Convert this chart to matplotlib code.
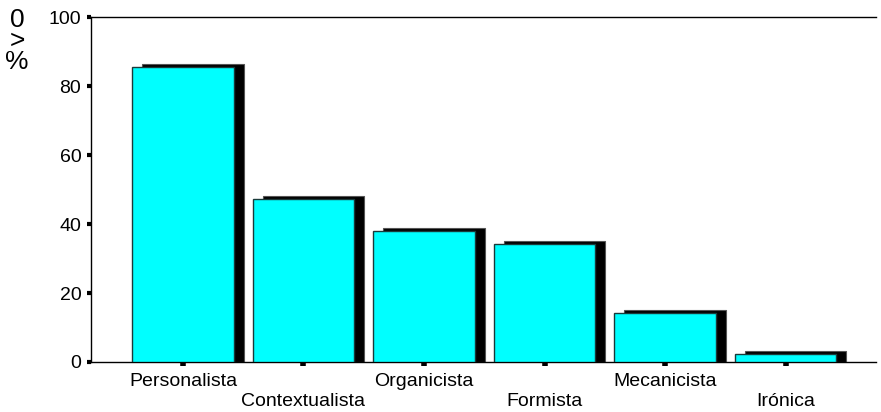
import matplotlib.pyplot as plt

plt.rcParams['font.family'] = ['Liberation Sans', 'DejaVu Sans']

# Daten
categories = ["Personalista", "Contextualista", "Organicista", "Formista", "Mecanicista", "Irónica"]
values = [85.5, 47.2, 38.0, 34.2, 14.2, 2.3]

fig = plt.figure(figsize=(8.81, 4.12), dpi=100)
ax = fig.add_axes([91 / 881, 50 / 412, 785 / 881, 345 / 412])

x = list(range(len(categories)))
bw = 0.84
dx = 0.083
dy = 0.9

# Schatten
ax.bar([i + dx for i in x], [v + dy for v in values], width=bw,
       color='black', edgecolor='#555555', linewidth=0.8, zorder=2)
# Balken
ax.bar(x, values, width=bw, color='#00FFFF', edgecolor='#1a3a3a',
       linewidth=1.0, zorder=3)

ax.set_xlim(-0.763, 5.75)
ax.set_ylim(0, 100)
ax.set_yticks([0, 20, 40, 60, 80, 100])

labels = [c if i % 2 == 0 else "\n" + c for i, c in enumerate(categories)]
ax.set_xticks(x)
ax.set_xticklabels(labels, fontsize=14, linespacing=1.25)
ax.tick_params(axis='x', length=3, width=4, pad=5, direction='out')
ax.tick_params(axis='y', length=3, width=3, pad=4, labelsize=14, direction='out')

ax.spines['right'].set_visible(False)
for s in ['left', 'bottom', 'top']:
    ax.spines[s].set_linewidth(1.0)
    ax.spines[s].set_color('black')

# Achsenbeschriftung (gestapelt)
fig.text(17 / 881, 1 - 41 / 412, "0\n>\n%", fontsize=19, ha='center',
         va='center', linespacing=0.82, multialignment='center')

fig.savefig("out.png", dpi=100)
